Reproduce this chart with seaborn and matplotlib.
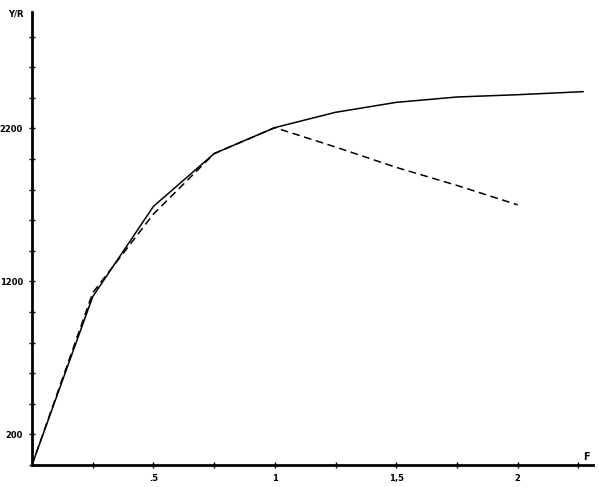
import matplotlib
matplotlib.use("Agg")
import matplotlib.pyplot as plt
import pandas as pd
import seaborn as sns

# F values and Y/R
f_solid = [0, 0.25, 0.5, 0.75, 1.0, 1.25, 1.5, 1.75, 2.0, 2.27]
yr_solid = [0, 1100, 1690, 2035, 2205, 2305, 2370, 2405, 2420, 2440]

f_dashed = [0, 0.25, 0.5, 0.75, 1.0, 1.25, 1.5, 1.75, 2.0]
yr_dashed = [0, 1125, 1640, 2035, 2205, 2078, 1945, 1827, 1700]

x_ticks = [0.25, 0.5, 0.75, 1.0, 1.25, 1.5, 1.75, 2.0, 2.25]
x_labels = ["", ".5", "", "1", "", "1,5", "", "2", ""]
y_ticks = list(range(0, 3000, 200))
y_labels = ["200" if v == 200 else "1200" if v == 1200 else "2200" if v == 2200 else "" for v in y_ticks]

df = pd.concat([
    pd.DataFrame({"F": f_solid, "YR": yr_solid, "curve": "solid"}),
    pd.DataFrame({"F": f_dashed, "YR": yr_dashed, "curve": "dashed"}),
])

sns.set_style("white")
plt.rcParams["font.family"] = ["DejaVu Sans"]
plt.rcParams["text.color"] = "black"

fig = plt.figure(figsize=(5.99, 4.87), dpi=100)
ax = fig.add_axes([0.0534, 0.0452, 0.9366, 0.930])

sns.lineplot(
    data=df, x="F", y="YR", style="curve",
    dashes={"solid": "", "dashed": (5, 3)},
    color="black", linewidth=1.1, legend=False, ax=ax,
)

ax.set_xlim(0, 2.31)
ax.set_ylim(0, 2960)
for side in ["top", "right"]:
    ax.spines[side].set_visible(False)
for side in ["left", "bottom"]:
    ax.spines[side].set_linewidth(2)
    ax.spines[side].set_color("black")

ax.set_xticks(x_ticks)
ax.set_xticklabels(x_labels, fontsize=6, fontweight="bold")
ax.set_yticks(y_ticks)
ax.set_yticklabels(y_labels, fontsize=6, fontweight="bold")
ax.tick_params(bottom=True, left=True, direction="inout", length=5, width=1,
               color="black", labelcolor="black", pad=4)
ax.set_xlabel("")
ax.set_ylabel("")

fig.text(8 / 599, 1 - 14 / 487, "Y/R", fontsize=6, fontweight="bold", va="center")
fig.text(583 / 599, 1 - 457 / 487, "F", fontsize=7, fontweight="bold", va="center")

fig.savefig("out.png", dpi=100)
plt.close(fig)
